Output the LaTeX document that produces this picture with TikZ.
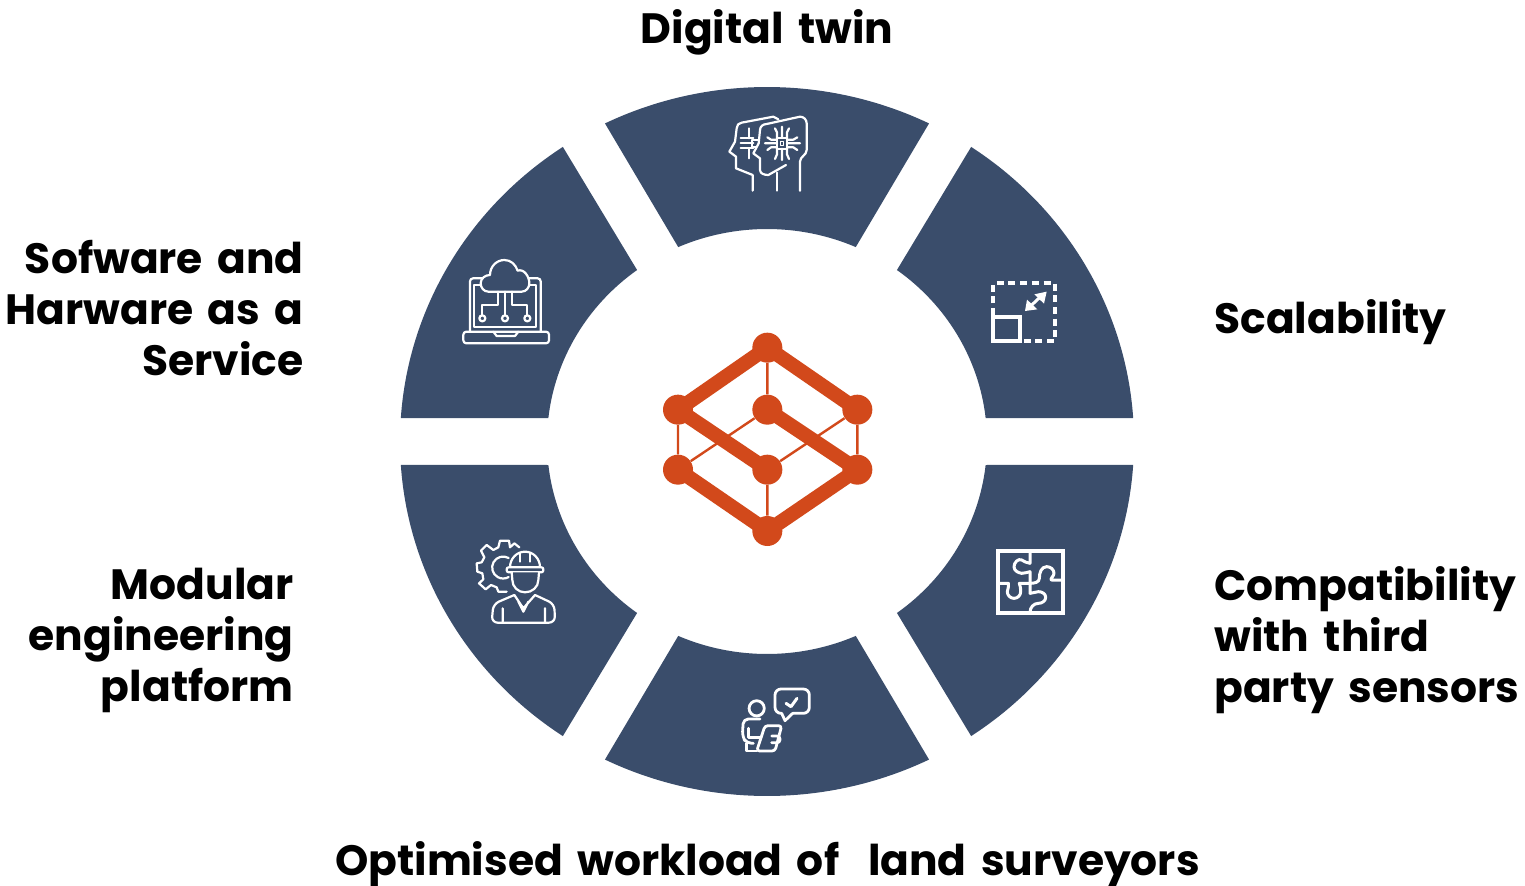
\documentclass[tikz,border=0pt]{standalone}
\usepackage{fontspec}
\setmainfont{Poppins}[WordSpace=1.6]
\definecolor{seg}{HTML}{3A4D6B}
\definecolor{logo}{HTML}{D2491B}
\tikzset{
 x=0.5pt,y=0.5pt,
 segment/.style={fill=seg,draw=none},
 label/.style={font=\fontsize{21.2}{25.5}\selectfont\bfseries,text=black,inner sep=0pt},
 iconat/.style 2 args={shift={(#1,885-#2)},x=0.16667pt,y=-0.16667pt,draw=white,line width=1.1pt,line join=round,line cap=round},
 dot/.style={circle,fill=logo,minimum size=15pt,inner sep=0pt,draw=none},
 thickbar/.style={draw=logo,line width=7.2pt},
 thinbar/.style={draw=logo,line width=1.2pt},
}
\usetikzlibrary{calc}
\newcommand{\seg}[4]{%
 \fill[segment] (767,443.5) ++(#1:183.5pt and 177.25pt) arc[start angle=#1,end angle=#2,x radius=183.5pt,y radius=177.25pt]
  -- ($(767,443.5)+(#4:110pt and 106.25pt)$) arc[start angle=#4,end angle=#3,x radius=110pt,y radius=106.25pt] -- cycle;}
\begin{document}
\begin{tikzpicture}
\useasboundingbox (0,0) rectangle (1525,885);
% ring segments
\seg{63.8}{116.2}{66.2}{113.8}
\seg{3.8}{56.2}{6.35}{53.8}
\seg{-56.2}{-3.8}{-53.8}{-6.35}
\seg{-116.2}{-63.8}{-113.8}{-66.2}
\seg{183.8}{236.2}{186.35}{233.8}
\seg{123.8}{176.2}{126.2}{173.65}
% labels
\node[label,anchor=base] (digital) at (767,841) {Digital twin};
\node[label,anchor=north east,align=right] (software) at (304,645) {Sofware and\\Harware as a\\Service};
\node[label,anchor=base west] (scal) at (1214,552) {Scalability};
\node[label,anchor=north east,align=right] (modular) at (294,317) {Modular\\engineering\\platform};
\node[label,anchor=north west,align=left] (compat) at (1214,319) {Compatibility\\with third\\party sensors};
\node[label,anchor=base] (optim) at (767.5,10) {Optimised workload of\ \ land surveyors};
% centre logo
\begin{scope}[shift={(650,885-325)},x=0.16667pt,y=-0.16667pt]
 \node[dot] (t) at (352,68) {};
 \node[dot] (lu) at (84,254) {};
 \node[dot] (ru) at (622,254) {};
 \node[dot] (c) at (352,254) {};
 \node[dot] (ll) at (84,434) {};
 \node[dot] (cl) at (352,434) {};
 \node[dot] (rl) at (622,434) {};
 \node[dot] (b) at (352,618) {};
 \draw[thinbar] (t)--(c) (lu)--(ll) (ru)--(rl) (cl)--(b) (ll)--(c) (cl)--(ru);
 \draw[thickbar] (t.center)--(lu.center) (t.center)--(ru.center) (lu.center)--(cl.center) (c.center)--(rl.center) (ll.center)--(b.center) (b.center)--(rl.center);
\end{scope}
% heads icon
\begin{scope}[iconat={710}{100}]
 \draw (128,272)--(128,225) (78,205)--(128,225);
 \draw (205,58)--(190,50)--(95,68) to[out=180,in=90] (80,85)--(75,125)--(58,155)--(78,170)--(78,205);
 \foreach \y in {115,130,145}{\draw (92,\y)--(130,\y);}
 \draw (118,85)--(118,115) (118,145)--(118,175);
 \draw (125,120) rectangle (150,142);
 \draw[fill=seg] (270,272)--(270,185) to[out=90,in=-90] (290,150)--(290,70) to[out=90,in=0] (270,50)--(170,72) to[out=180,in=90] (150,90)--(146,130)--(130,160)--(150,175)--(150,210) to[out=-90,in=180] (175,225)--(228,195);
 \draw (200,272)--(200,218);
 \draw (201,114) rectangle (231,146);
 \draw[line width=0.8pt] (211,124) rectangle (221,136);
 \draw (216,114)--(216,80) (201,114)--(201,97)--(195,85) (231,114)--(231,97)--(237,85)
  (216,146)--(216,180) (201,146)--(201,163)--(195,177) (231,146)--(231,163)--(237,177)
  (201,130)--(165,130) (201,119)--(183,119)--(172,112) (201,142)--(183,142)--(172,150)
  (231,130)--(270,130) (231,119)--(250,119)--(262,112) (231,142)--(250,142)--(262,150);
\end{scope}
% laptop icon
\begin{scope}[iconat={450}{250}]
 \draw[rounded corners=1.5pt] (60,245)--(60,85)--(272,85)--(272,245);
 \draw (72,232)--(72,105)--(258,105)--(258,232)--cycle;
 \draw[rounded corners=1.5pt] (40,245) rectangle (297,280);
 \draw (130,245)--(140,258)--(195,258)--(205,245);
 \draw[fill=seg] (115,125) to[out=180,in=-90] (92,100) to[out=90,in=180] (120,75) to[out=90,in=180] (163,30) to[out=0,in=110] (203,62) to[out=20,in=90] (238,100) to[out=-90,in=0] (215,125)--cycle;
 \draw (165,125)--(165,196) (145,125)--(145,165)--(97,165)--(97,196) (185,125)--(185,165)--(232,165)--(232,196);
 \foreach \x in {97,165,232}{\draw (\x,205) circle[radius=1.5pt];}
\end{scope}
% scale icon
\begin{scope}[iconat={975}{265}]
 \draw[line width=2pt,dash pattern=on 3.5pt off 2.35pt,line cap=butt,line join=miter] (55,150)--(55,55)--(240,55)--(240,228)--(140,228);
 \draw[line width=2pt,line join=miter] (55,155) rectangle (135,228);
 \draw[line width=1.5pt,line cap=butt] (168,122)--(200,92);
 \fill[white] (215,80)--(178,88)--(207,116)--cycle (150,138)--(187,133)--(156,104)--cycle;
\end{scope}
% puzzle icon
\begin{scope}[iconat={980}{535}]
 \draw[line width=2pt,line join=miter] (53,47) rectangle (250,235);
 \draw[line width=1.5pt] (150,50)--(150,85) to[out=170,in=-30] (125,75) to[out=150,in=90] (102,95) to[out=-90,in=170] (125,115) to[out=-10,in=180] (150,110)--(150,175) to[out=0,in=180] (175,170) to[out=0,in=90] (197,187) to[out=-90,in=0] (175,205) to[out=180,in=90] (150,232);
 \draw[line width=1.5pt] (55,145)--(85,145) to[out=-70,in=90] (82,170) to[out=-90,in=180] (102,190) to[out=0,in=-90] (122,170) to[out=90,in=-70] (118,145)--(150,145) to[out=0,in=-90] (178,130) to[out=90,in=180] (200,95) to[out=0,in=90] (222,115) to[out=-90,in=180] (215,135)--(250,135);
\end{scope}
% worker icon
\begin{scope}[iconat={465}{530}]
 \draw (163,52)--(148,40)--(135,52)--(132,32)--(105,32)--(100,52)--(85,60)--(65,45)--(48,62)--(58,82)--(50,97)--(35,100)--(37,125)--(52,130)--(55,148)--(42,160)--(62,178)--(78,165)--(95,172)--(100,185)--(125,185);
 \draw (131,84) arc[start angle=60,end angle=300,radius=5.5pt];
 \draw[fill=seg] (135,112) to[out=90,in=180] (180,65) to[out=0,in=90] (225,112);
 \draw (165,70)--(165,95) (195,70)--(195,95);
 \draw[rounded corners=1pt,fill=seg] (125,112) rectangle (235,127);
 \draw[fill=seg] (140,127)--(142,150) to[out=-90,in=180] (180,187) to[out=0,in=-90] (220,150)--(222,127);
 \draw[rounded corners=3pt] (148,195)--(85,222)--(80,278)--(270,278)--(268,222)--(210,195);
 \draw (148,195)--(175,235)--(210,195) (160,215)--(175,245)--(190,215) (113,235)--(113,275) (240,235)--(240,275);
\end{scope}
% person icon
\begin{scope}[iconat={730}{675},line width=1.4pt]
 \draw[rounded corners=3pt] (155,115)--(135,115)--(135,42)--(238,42)--(238,115)--(188,115);
 \draw (155,115)--(165,137)--(188,115);
 \draw[line width=1.5pt] (168,85)--(183,95)--(201,70);
 \draw (80,100) circle[radius=3.8pt];
 \draw[rounded corners=2.5pt] (90,132)--(40,132)--(37,185)--(50,205)--(70,205);
 \draw (55,160)--(55,187)--(92,187);
 \draw[rounded corners=1.5pt] (105,152)--(155,152)--(135,228)--(80,228)--cycle;
 \draw[rounded corners=1.5pt] (125,183)--(150,183)--(150,203)--(125,203);
 \draw (50,205)--(50,228)--(80,228);
\end{scope}
\end{tikzpicture}
\end{document}
